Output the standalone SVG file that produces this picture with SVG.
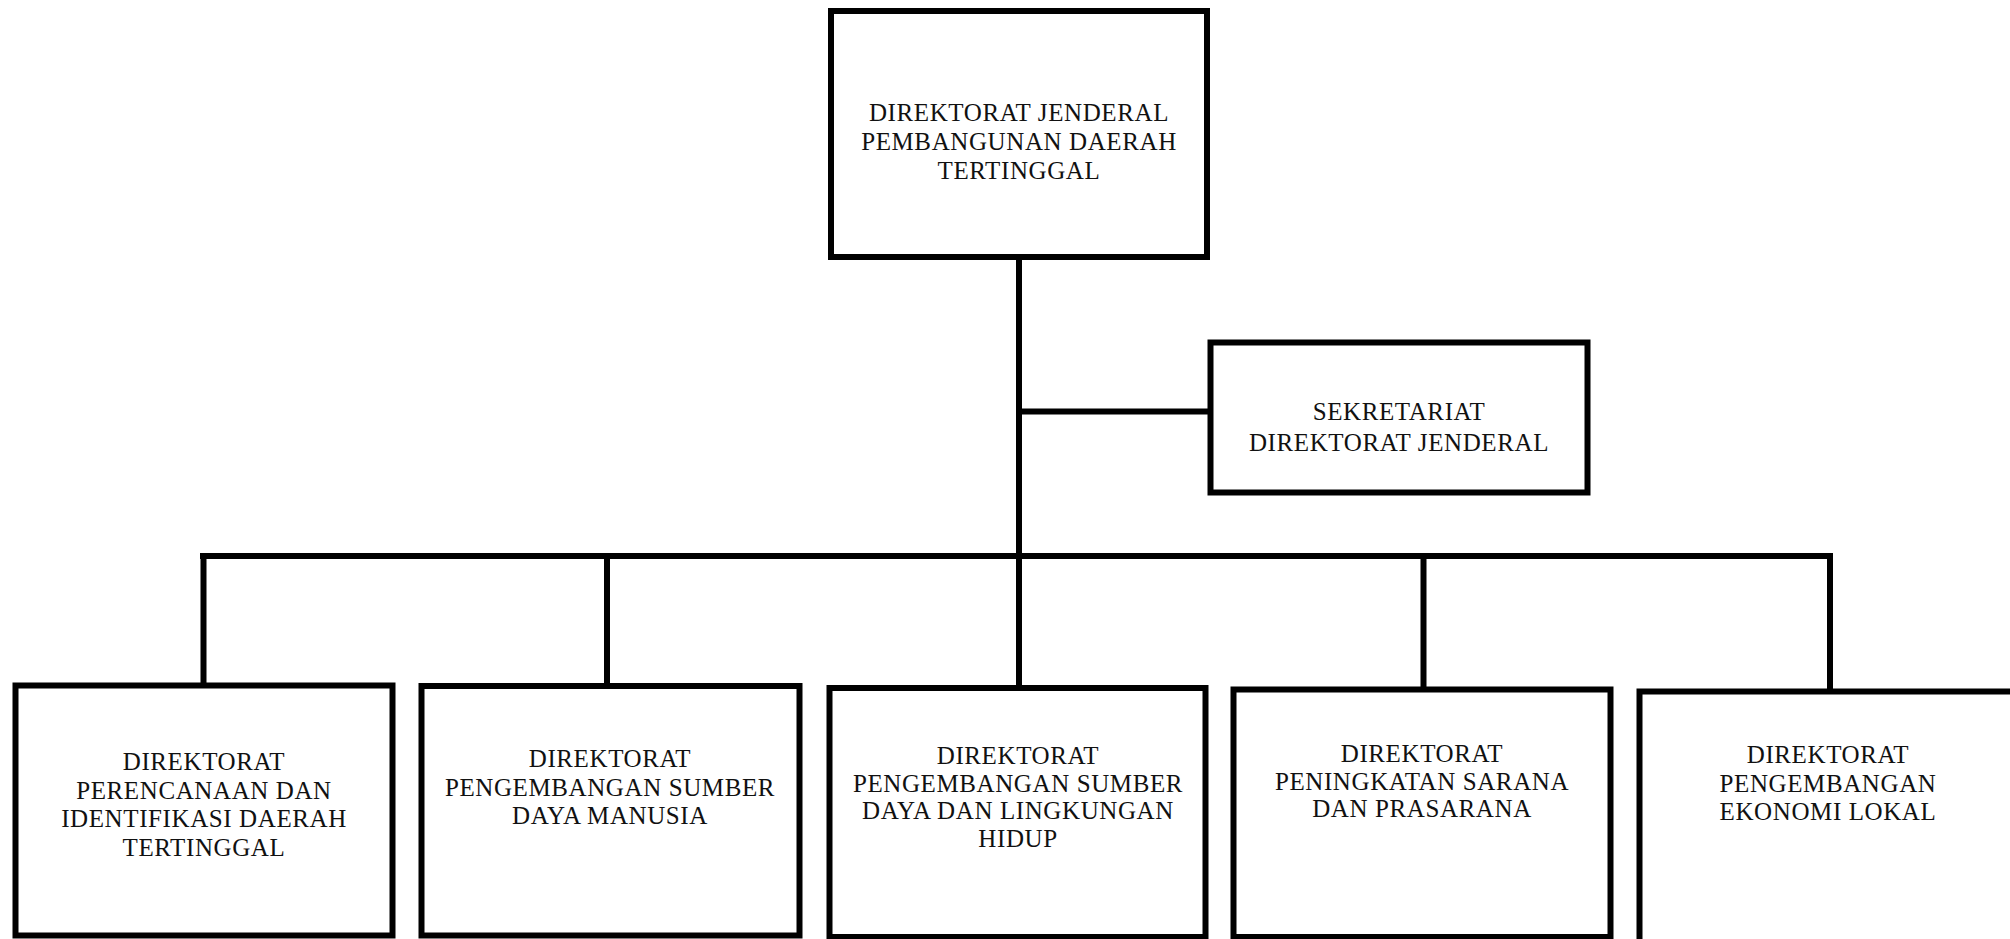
<svg xmlns="http://www.w3.org/2000/svg" width="2010" height="939" viewBox="0 0 2010 939">
<style>
.box{fill:#fff;stroke:#000;stroke-width:6}
.ln{fill:none;stroke:#000;stroke-width:6}
.t{font-family:"Liberation Serif","Times New Roman",serif;font-size:25px;letter-spacing:0.6px;fill:#111;text-anchor:middle}
</style>
<rect width="2010" height="939" fill="#fff"/>
<g id="connectors">
<line class="ln" x1="1019" y1="257" x2="1019" y2="688"/>
<line class="ln" x1="1019" y1="411.5" x2="1210" y2="411.5"/>
<line class="ln" x1="200" y1="556" x2="1833" y2="556"/>
<line class="ln" x1="203.5" y1="556" x2="203.5" y2="686"/>
<line class="ln" x1="607" y1="556" x2="607" y2="686"/>
<line class="ln" x1="1423.5" y1="556" x2="1423.5" y2="689"/>
<line class="ln" x1="1830" y1="556" x2="1830" y2="692"/>
</g>
<g id="n-dirjen">
<rect class="box" x="831" y="11" width="376" height="246"/>
<text class="t" x="1019" y="121">DIREKTORAT JENDERAL</text>
<text class="t" x="1019" y="150">PEMBANGUNAN DAERAH</text>
<text class="t" x="1019" y="179">TERTINGGAL</text>
</g>
<g id="n-sekretariat">
<rect class="box" x="1210.5" y="342.5" width="377" height="150"/>
<text class="t" x="1399" y="420">SEKRETARIAT</text>
<text class="t" x="1399" y="451">DIREKTORAT JENDERAL</text>
</g>
<g id="n-perencanaan">
<rect class="box" x="15.5" y="685.5" width="377" height="250"/>
<text class="t" x="204" y="770">DIREKTORAT</text>
<text class="t" x="204" y="799">PERENCANAAN DAN</text>
<text class="t" x="204" y="827">IDENTIFIKASI DAERAH</text>
<text class="t" x="204" y="856">TERTINGGAL</text>
</g>
<g id="n-sdm">
<rect class="box" x="421.5" y="686" width="378" height="249.5"/>
<text class="t" x="610" y="767">DIREKTORAT</text>
<text class="t" x="610" y="796">PENGEMBANGAN SUMBER</text>
<text class="t" x="610" y="824">DAYA MANUSIA</text>
</g>
<g id="n-sdlh">
<rect class="box" x="829.5" y="688" width="376" height="249"/>
<text class="t" x="1018" y="764">DIREKTORAT</text>
<text class="t" x="1018" y="792">PENGEMBANGAN SUMBER</text>
<text class="t" x="1018" y="819">DAYA DAN LINGKUNGAN</text>
<text class="t" x="1018" y="847">HIDUP</text>
</g>
<g id="n-sarana">
<rect class="box" x="1233.5" y="689.5" width="377" height="247.5"/>
<text class="t" x="1422" y="762">DIREKTORAT</text>
<text class="t" x="1422" y="790">PENINGKATAN SARANA</text>
<text class="t" x="1422" y="817">DAN PRASARANA</text>
</g>
<g id="n-ekonomi">
<path class="ln" d="M1639.5 939 V691.5 H2016"/>
<text class="t" x="1828" y="763">DIREKTORAT</text>
<text class="t" x="1828" y="792">PENGEMBANGAN</text>
<text class="t" x="1828" y="820">EKONOMI LOKAL</text>
</g>
</svg>
